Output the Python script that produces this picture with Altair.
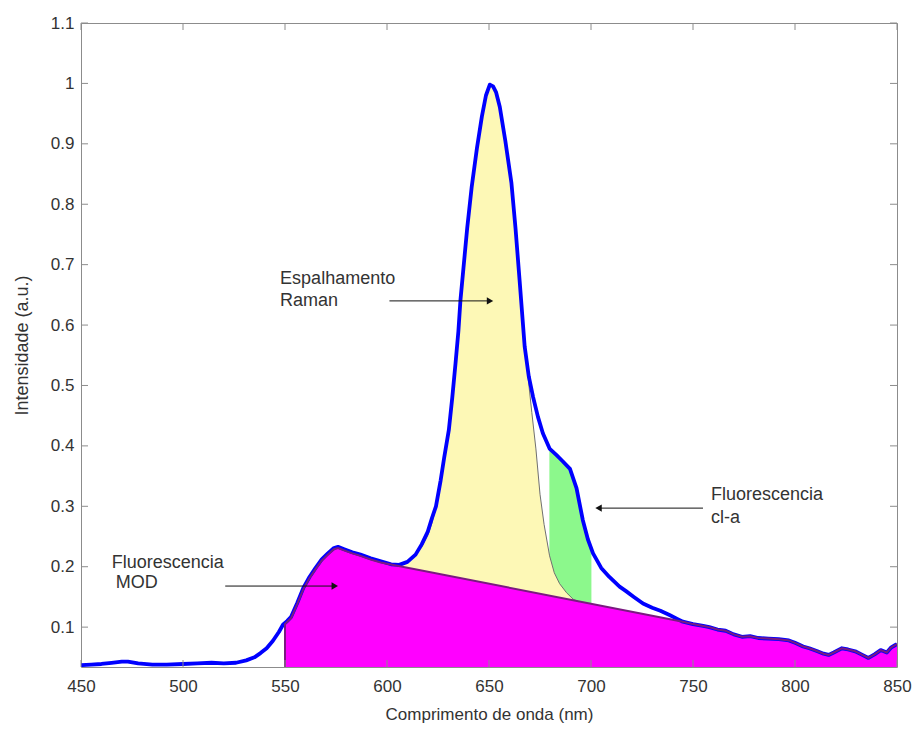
import altair as alt
import pandas as pd

# ---------------- data ----------------
blue_nm = [450, 455, 460, 465, 470, 473, 478, 485, 492, 500, 507, 514, 520, 526, 531, 535, 538, 541, 544, 547,
           549, 551, 553, 556, 559, 562, 565, 568, 571, 574, 576, 579, 583, 587, 592, 597, 602, 606, 610, 614,
           617, 620, 622, 624, 626.3, 628, 630.3, 632, 633.6, 635, 636, 637.5, 639.3, 641.5, 644.1, 646.5, 648.5,
           650.4, 652, 653.5, 655.3, 658, 661, 663, 665, 667.5, 669.5, 671.6, 674, 676.4, 679.8, 683, 686, 689.7,
           692.9, 696, 698.5, 701, 705, 709, 714, 717, 721, 725.5, 730, 734, 738.5, 742, 745, 750, 755, 758, 762,
           766, 770, 774, 778, 782, 787, 792, 797, 800, 804, 807, 811, 814, 816.5, 819, 823, 826, 829.5, 833, 836,
           839, 842, 845, 847, 849, 850]
blue_val = [0.037, 0.038, 0.039, 0.041, 0.043, 0.043, 0.040, 0.038, 0.038, 0.039, 0.040, 0.041, 0.040, 0.041,
            0.045, 0.050, 0.057, 0.065, 0.077, 0.092, 0.104, 0.110, 0.117, 0.140, 0.165, 0.183, 0.198, 0.212,
            0.222, 0.231, 0.233, 0.229, 0.224, 0.220, 0.214, 0.209, 0.204, 0.203, 0.208, 0.220, 0.237, 0.258,
            0.280, 0.300, 0.343, 0.380, 0.426, 0.480, 0.537, 0.590, 0.641, 0.695, 0.760, 0.828, 0.893, 0.945,
            0.980, 0.998, 0.995, 0.985, 0.961, 0.905, 0.835, 0.760, 0.674, 0.564, 0.515, 0.481, 0.448, 0.421,
            0.395, 0.385, 0.375, 0.362, 0.330, 0.277, 0.245, 0.222, 0.198, 0.183, 0.167, 0.160, 0.150, 0.139,
            0.132, 0.127, 0.120, 0.114, 0.109, 0.105, 0.102, 0.100, 0.096, 0.094, 0.088, 0.084, 0.085, 0.082,
            0.081, 0.080, 0.078, 0.074, 0.068, 0.065, 0.060, 0.056, 0.054, 0.058, 0.065, 0.063, 0.060, 0.054,
            0.049, 0.055, 0.062, 0.058, 0.066, 0.070, 0.072]

# Raman scattering (yellow) upper edge
raman_nm = [605, 609, 613, 617, 620, 622, 624, 626.3, 628, 630.3, 632, 633.6, 635, 636, 637.5, 639.3, 641.5,
            644.1, 646.5, 648.5, 650.4, 652, 653.5, 655.3, 658, 661, 663, 665, 667.5, 669.3, 671, 673, 675, 677,
            679.7, 682, 684.6, 688, 691.3, 694]
raman_val = [0.200, 0.206, 0.216, 0.232, 0.252, 0.272, 0.298, 0.343, 0.380, 0.426, 0.480, 0.537, 0.590, 0.641,
             0.695, 0.760, 0.828, 0.893, 0.945, 0.980, 0.998, 0.995, 0.985, 0.961, 0.905, 0.835, 0.760, 0.674,
             0.564, 0.509, 0.455, 0.395, 0.320, 0.270, 0.218, 0.190, 0.172, 0.157, 0.146, 0.142]

# chlorophyll-a fluorescence (green) upper edge
green_nm = [679.6, 683, 686, 689.7, 692.9, 696, 698.5, 700.2]
green_val = [0.395, 0.385, 0.375, 0.362, 0.330, 0.277, 0.245, 0.228]

# MOD fluorescence (magenta) upper edge
mod_nm = [550, 553, 556, 559, 562, 565, 568, 571, 574, 576, 579, 583, 587, 592, 597, 600, 745, 750, 755, 758,
          762, 766, 770, 774, 778, 782, 787, 792, 797, 800, 804, 807, 811, 814, 816.5, 819, 823, 826, 829.5, 833,
          836, 839, 842, 845, 847, 849, 850]
mod_val = [0.105, 0.115, 0.138, 0.163, 0.181, 0.196, 0.210, 0.220, 0.229, 0.231, 0.227, 0.222, 0.218, 0.212,
           0.207, 0.205, 0.109, 0.105, 0.102, 0.100, 0.096, 0.094, 0.088, 0.084, 0.085, 0.082, 0.081, 0.080,
           0.078, 0.074, 0.068, 0.065, 0.060, 0.056, 0.054, 0.058, 0.065, 0.063, 0.060, 0.054, 0.049, 0.055,
           0.062, 0.058, 0.066, 0.070, 0.072]

x_ticks = [450, 500, 550, 600, 650, 700, 750, 800, 850]
y_ticks = [0.1, 0.2, 0.3, 0.4, 0.5, 0.6, 0.7, 0.8, 0.9, 1.0, 1.1]

ann_text = ["Espalhamento", "Raman", "Fluorescencia", "MOD", "Fluorescencia", "cl-a"]
ann_x = [547.6, 547.6, 465.1, 467.0, 758.8, 758.8]
ann_y = [0.676, 0.640, 0.206, 0.173, 0.3185, 0.280]

arrow_from = [601.2, 520.7, 754.9]
arrow_to = [650.5, 574.4, 703.7]
arrow_y = [0.640, 0.168, 0.297]
arrow_dir = ["right", "right", "left"]

Y_MIN, Y_MAX = 0.034, 1.1
W, H = 816, 644
FONT = "Liberation Sans"
TXT = "#333333"
AX = "#8c8c8c"

# ---------------- chart ----------------
xs = alt.Scale(domain=[450, 850], nice=False, zero=False)
ys = alt.Scale(domain=[Y_MIN, Y_MAX], nice=False, zero=False)
xaxis = alt.Axis(values=x_ticks, tickSize=0, labelFlush=False, labelFontSize=17, labelColor=TXT,
                 labelPadding=11, labelFont=FONT, title="Comprimento de onda (nm)", titleFont=FONT,
                 titleFontSize=17, titleFontWeight="normal", titleColor=TXT, titleY=47,
                 titleBaseline="middle", domain=False, grid=False)
yaxis = alt.Axis(values=y_ticks, format=".1~f", tickSize=0, labelFontSize=17, labelColor=TXT,
                 labelPadding=7, labelFont=FONT, title="Intensidade (a.u.)", titleFont=FONT,
                 titleFontSize=18, titleFontWeight="normal", titleColor=TXT, titleX=-59,
                 titleBaseline="middle", domain=False, grid=False)


def X(field="x"):
    return alt.X(f"{field}:Q", scale=xs, axis=xaxis)


def Y(field="y"):
    return alt.Y(f"{field}:Q", scale=ys, axis=yaxis)


blue_df = pd.DataFrame({"x": blue_nm, "y": blue_val, "i": range(len(blue_nm))})
raman_df = pd.DataFrame({"x": raman_nm, "y": raman_val, "i": range(len(raman_nm))})
green_df = pd.DataFrame({"x": green_nm, "y": green_val})
mod_df = pd.DataFrame({"x": mod_nm, "y": mod_val})
mod_line_df = pd.DataFrame({"x": [mod_nm[0]] + mod_nm, "y": [Y_MIN] + mod_val,
                            "i": range(len(mod_nm) + 1)})

green = alt.Chart(green_df).mark_area(color="#8cf88c", clip=True).encode(
    x=X(), y=Y(), y2=alt.datum(Y_MIN))
yellow = alt.Chart(raman_df).mark_area(color="#fdf8b6", clip=True).encode(
    x=X(), y=Y(), y2=alt.datum(Y_MIN))
magenta = alt.Chart(mod_df).mark_area(color="#ff00ff", clip=True).encode(
    x=X(), y=Y(), y2=alt.datum(Y_MIN))
raman_line = alt.Chart(raman_df).mark_line(color="#707070", strokeWidth=1, clip=True).encode(
    x=X(), y=Y(), order="i:Q")
blue = alt.Chart(blue_df).mark_line(color="#0000ff", strokeWidth=3.8, clip=True,
                                    strokeJoin="round").encode(x=X(), y=Y(), order="i:Q")
purple = alt.Chart(mod_line_df).mark_line(color="#7a1a80", strokeWidth=2, clip=True).encode(
    x=X(), y=Y(), order="i:Q")

xt = pd.DataFrame({"x": x_ticks})
yt = pd.DataFrame({"y": y_ticks})
tick_l = alt.Chart(yt).mark_rule(color=AX).encode(y=Y(), x=alt.value(0), x2=alt.value(7))
tick_r = alt.Chart(yt).mark_rule(color=AX).encode(y=Y(), x=alt.value(W - 7), x2=alt.value(W))
tick_b = alt.Chart(xt).mark_rule(color=AX).encode(x=X(), y=alt.value(H), y2=alt.value(H - 7))
tick_t = alt.Chart(xt).mark_rule(color=AX).encode(x=X(), y=alt.value(0), y2=alt.value(7))

ann_df = pd.DataFrame({"x": ann_x, "y": ann_y, "t": ann_text})
texts = alt.Chart(ann_df).mark_text(align="left", baseline="middle", font=FONT, fontSize=18,
                                    color=TXT).encode(x=X(), y=Y(), text="t:N")

arr_df = pd.DataFrame({"x": arrow_from, "x2": arrow_to, "y": arrow_y, "d": arrow_dir})
arrows = alt.Chart(arr_df).mark_rule(color="#111111", strokeWidth=1).encode(
    x=X(), x2="x2:Q", y=Y())
heads = alt.Chart(arr_df).mark_point(filled=True, color="#111111", size=55, opacity=1).encode(
    x=X("x2"), y=Y(),
    shape=alt.Shape("d:N", scale=alt.Scale(domain=["right", "left"],
                                           range=["triangle-right", "triangle-left"]), legend=None))

chart = alt.layer(green, yellow, magenta, raman_line, blue, purple,
                  tick_l, tick_r, tick_b, tick_t, arrows, heads, texts).properties(
    width=W, height=H,
    autosize=alt.AutoSizeParams(type="none"),
    padding={"left": 73, "top": 15, "right": 15, "bottom": 56},
    background="white",
).configure_view(stroke=AX, strokeWidth=1)

chart.save("out.html", embed_options={"renderer": "svg", "actions": False})
